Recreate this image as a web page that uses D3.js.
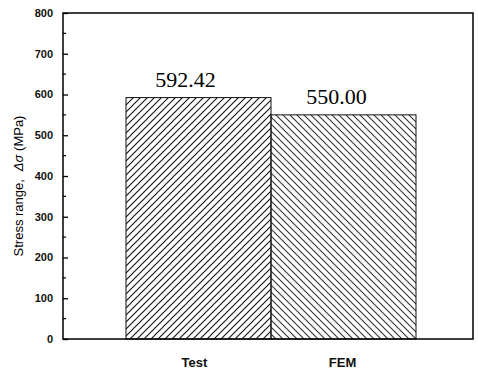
<!DOCTYPE html>
<html>
<head>
<meta charset="utf-8">
<script src="https://cdn.jsdelivr.net/npm/d3@7"></script>
<style>
  body { margin: 0; background: #fff; }
  svg { display: block; }
</style>
</head>
<body>
<div id="chart"></div>
<script>
// data
const categories = ['Test', 'FEM']
const values = [592.42, 550.00]
const valueLabels = ['592.42', '550.00']
const yTicks = [0, 100, 200, 300, 400, 500, 600, 700, 800]

const width = 478, height = 372
const margin = { top: 13, right: 5, bottom: 33, left: 63 }

const svg = d3.select('#chart').append('svg')
  .attr('width', width)
  .attr('height', height)

// hatch patterns
const defs = svg.append('defs')
function hatch(id, dir, color) {
  let p = defs.append('pattern')
    .attr('id', id)
    .attr('patternUnits', 'userSpaceOnUse')
    .attr('width', 7).attr('height', 7)
  let d = dir > 0
    ? 'M-1,1 l2,-2 M0,7 l7,-7 M6,8 l2,-2'
    : 'M-1,6 l2,2 M0,0 l7,7 M6,-1 l2,2'
  p.append('path').attr('d', d)
    .attr('stroke', color).attr('stroke-width', 1.1)
}
hatch('hatchA', 1, '#111')
hatch('hatchB', -1, '#333')

const x = d3.scaleBand()
  .domain(categories)
  .range([126, 416])
  .paddingInner(0)

const y = d3.scaleLinear()
  .domain([0, 800])
  .range([height - margin.bottom, margin.top])

const x0 = margin.left, x1 = width - margin.right

// bars
svg.append('g').selectAll('rect')
  .data(categories)
  .enter().append('rect')
  .attr('x', d => x(d))
  .attr('y', (d, i) => y(values[i]))
  .attr('width', x.bandwidth())
  .attr('height', (d, i) => y(0) - y(values[i]))
  .attr('fill', (d, i) => i === 0 ? 'url(#hatchA)' : 'url(#hatchB)')
  .attr('stroke', '#111')
  .attr('stroke-width', 1)

// value labels
svg.append('g').selectAll('text')
  .data(categories)
  .enter().append('text')
  .attr('x', (d, i) => x(d) + x.bandwidth() / 2 - (i === 0 ? 13 : 7))
  .attr('y', (d, i) => y(values[i]) - 11)
  .attr('text-anchor', 'middle')
  .style('font-family', '"Liberation Serif", "Times New Roman", serif')
  .style('font-size', '22px')
  .text((d, i) => valueLabels[i])

// frame
svg.append('path')
  .attr('d', `M${x0},${y(0)} V${y(800)} H${x1} V${y(0)} Z`)
  .attr('fill', 'none')
  .attr('stroke', '#000')
  .attr('stroke-width', 1.5)

// y axis, ticks pointing inward
const yAxis = d3.axisRight(y)
  .tickValues(yTicks)
  .tickSize(5)
  .tickFormat('')
svg.append('g')
  .attr('transform', `translate(${x0},0)`)
  .call(yAxis)
  .call(g => g.select('.domain').remove())
  .call(g => g.selectAll('line').attr('stroke-width', 1.3))

const minor = d3.range(50, 800, 100)
svg.append('g').selectAll('line')
  .data(minor)
  .enter().append('line')
  .attr('x1', x0).attr('x2', x0 + 3)
  .attr('y1', d => y(d)).attr('y2', d => y(d))
  .attr('stroke', '#000').attr('stroke-width', 1.2)

svg.append('g').selectAll('text')
  .data(yTicks)
  .enter().append('text')
  .attr('x', x0 - 10)
  .attr('y', d => y(d))
  .attr('dy', '0.35em')
  .attr('text-anchor', 'end')
  .style('font-family', '"Liberation Sans", Arial, sans-serif')
  .style('font-size', '11px')
  .style('font-weight', 'bold')
  .style('fill', '#111')
  .text(d => d)

// category labels
svg.append('g').selectAll('text')
  .data(categories)
  .enter().append('text')
  .attr('x', (d, i) => x(d) + x.bandwidth() / 2 - (i === 0 ? 4 : 1))
  .attr('y', 367)
  .attr('text-anchor', 'middle')
  .style('font-family', '"Liberation Sans", Arial, sans-serif')
  .style('font-size', '13px')
  .style('font-weight', 'bold')
  .style('fill', '#111')
  .text(d => d)

// y axis title
const title = svg.append('text')
  .attr('transform', `translate(23,${(y(0) + y(800)) / 2 + 10}) rotate(-90)`)
  .attr('text-anchor', 'middle')
  .style('font-family', '"Liberation Sans", Arial, sans-serif')
  .style('font-size', '13px')
  .style('fill', '#000')
title.append('tspan').text('Stress range,')
title.append('tspan').attr('dx', 8).style('font-style', 'italic').text('Δσ')
title.append('tspan').text(' (MPa)')
</script>
</body>
</html>
